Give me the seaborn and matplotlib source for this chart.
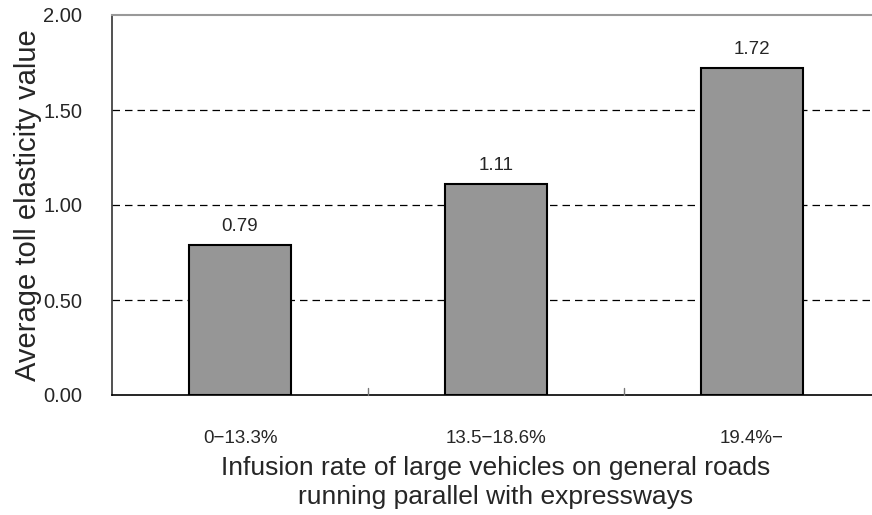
import matplotlib
matplotlib.use("Agg")
import matplotlib.pyplot as plt
from matplotlib import font_manager
import seaborn as sns
import pandas as pd

categories = ["0\u221213.3%", "13.5\u221218.6%", "19.4%\u2212"]
values = [0.79, 1.11, 1.72]
value_labels = ["0.79", "1.11", "1.72"]
y_ticks = [0.0, 0.5, 1.0, 1.5, 2.0]
y_tick_labels = ["0.00", "0.50", "1.00", "1.50", "2.00"]

sns.set_theme(style="white")
plt.rcParams["font.family"] = ["Liberation Sans", "DejaVu Sans"]

# a narrow face for the tick and value labels, if one is installed
installed = {f.name for f in font_manager.fontManager.ttflist}
if "Liberation Sans Narrow" in installed:
    narrow = ["Liberation Sans Narrow", "Liberation Sans", "DejaVu Sans"]
    narrow_size = 14
else:
    narrow = ["Liberation Sans", "DejaVu Sans"]
    narrow_size = 13.5

df = pd.DataFrame({"range": categories, "elasticity": values})

fig = plt.figure(figsize=(8.72, 5.15), dpi=100)
ax = fig.add_axes([112 / 872, 1 - 395 / 515, (880 - 112) / 872, (395 - 15) / 515])

sns.barplot(data=df, x="range", y="elasticity", ax=ax, color="#969696",
            edgecolor="black", linewidth=1.5, width=0.4, saturation=1, zorder=3)

ax.set_ylim(0, 2.0)
ax.set_xlim(-0.5, 2.5)
ax.set_yticks(y_ticks)
ax.set_yticklabels(y_tick_labels, fontsize=14.5)
ax.tick_params(axis="y", length=0, pad=21.5)

# category boundary ticks, pointing into the plot area
ax.set_xticks([0, 1, 2])
ax.set_xticklabels(categories, fontsize=narrow_size, family=narrow)
ax.tick_params(axis="x", length=0, pad=25)
for xb in [0.5, 1.5]:
    ax.plot([xb, xb], [0, 0.035], color="#777777", lw=1, zorder=4, clip_on=False)

for yv in [0.5, 1.0, 1.5]:
    ax.axhline(yv, color="black", lw=0.9, ls=(0, (6, 4)), zorder=1)

for i, (v, lab) in enumerate(zip(values, value_labels)):
    ax.annotate(lab, (i, v), xytext=(0, 10), textcoords="offset points",
                ha="center", va="baseline", fontsize=narrow_size, family=narrow)

for side in ["top", "left", "bottom", "right"]:
    ax.spines[side].set_visible(True)
ax.spines["top"].set_color("#999999")
ax.spines["top"].set_linewidth(1.5)
ax.spines["left"].set_color("#333333")
ax.spines["left"].set_linewidth(1.2)
ax.spines["bottom"].set_color("black")
ax.spines["bottom"].set_linewidth(1.2)
ax.spines["right"].set_color("#999999")

ax.set_ylabel("Average toll elasticity value", fontsize=21, labelpad=1)
ax.set_xlabel("Infusion rate of large vehicles on general roads\nrunning parallel with expressways",
              fontsize=19, labelpad=7, linespacing=1.22)

fig.savefig("out.png", dpi=100, facecolor="white")
